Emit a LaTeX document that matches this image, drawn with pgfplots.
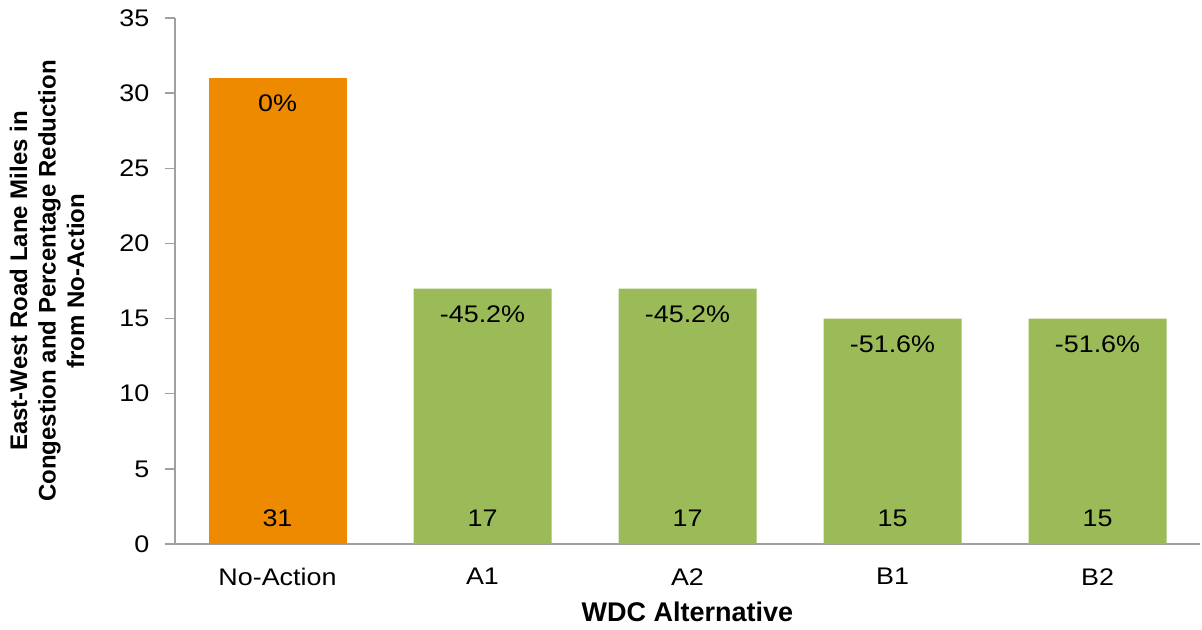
\documentclass[border=0pt]{standalone}
\usepackage{pgfplots}
\pgfplotsset{compat=1.18}
\usepackage{pgfplotstable}
\usepackage{fontspec}
\setmainfont[FakeStretch=1.12]{Liberation Sans}
\newfontfamily\labelfont{Liberation Sans}
\definecolor{barorange}{HTML}{EE8A00}
\definecolor{bargreen}{HTML}{9BBB59}
\definecolor{axgray}{HTML}{A0A0A0}

\pgfplotstableread{
x y pct val
0 31 0\% 31
}\tableNA
\pgfplotstableread{
x y pct val
1 17 -45.2\% 17
2 17 -45.2\% 17
3 15 -51.6\% 15
4 15 -51.6\% 15
}\tableAlt

\begin{document}
\begin{tikzpicture}
\begin{axis}[
  scale only axis, width=512.5pt, height=263pt,
  xmin=-0.5, xmax=4.5, ymin=0, ymax=35,
  xtick={0,1,2,3,4}, xticklabels={No-Action,A1,A2,B1,B2},
  ytick={0,5,...,35},
  axis x line*=bottom, axis y line*=left,
  x axis line style={axgray, -, line width=0.7pt, shorten <=-5pt},
  y axis line style={axgray, -, line width=0.7pt},
  major tick length=5pt,
  tick align=outside,
  xtick style={draw=none},
  ytick style={axgray, line width=0.7pt},
  ticklabel style={font=\fontsize{12}{14}\selectfont},
  xticklabel style={yshift=-3.7pt},
  yticklabel style={xshift=-4.3pt},
  /pgf/number format/assume math mode=true,
  xlabel={WDC Alternative},
  every axis x label/.style={at={(axis description cs:0.5,0)}, anchor=center, yshift=-34pt,
    font=\labelfont\bfseries\fontsize{13.5}{15}\selectfont},
  ylabel={East-West Road Lane Miles in\\Congestion and Percentage Reduction\\from No-Action},
  every axis y label/.style={at={(axis description cs:0,0.5)}, anchor=center, xshift=-64pt, rotate=90,
    align=center, inner sep=0pt, font=\labelfont\bfseries\fontsize{12}{14.25}\selectfont},
  clip=false,
]
\coordinate (O) at (axis description cs:0,0);
\addplot[ybar, bar width=69pt, bar shift=0pt, fill=barorange, draw=none,
  nodes near coords, point meta=explicit symbolic,
  every node near coord/.append style={anchor=north, inner sep=0pt, yshift=-8.2pt, font=\fontsize{12}{14}\selectfont, text=black}]
  table[x=x, y=y, meta=pct]{\tableNA};
\addplot[ybar, bar width=69pt, bar shift=0pt, fill=bargreen, draw=none,
  nodes near coords, point meta=explicit symbolic,
  every node near coord/.append style={anchor=north, inner sep=0pt, yshift=-8.2pt, font=\fontsize{12}{14}\selectfont, text=black}]
  table[x=x, y=y, meta=pct]{\tableAlt};
\addplot[draw=none, mark=none,
  nodes near coords, point meta=explicit symbolic,
  every node near coord/.append style={anchor=south, inner sep=0pt, yshift=8.5pt, font=\fontsize{12}{14}\selectfont, text=black}]
  table[x=x, y expr=0, meta=val]{\tableNA};
\addplot[draw=none, mark=none,
  nodes near coords, point meta=explicit symbolic,
  every node near coord/.append style={anchor=south, inner sep=0pt, yshift=8.5pt, font=\fontsize{12}{14}\selectfont, text=black}]
  table[x=x, y expr=0, meta=val]{\tableAlt};
\end{axis}
\pgfresetboundingbox
\path (O) ++(-87.5pt,-42.5pt) rectangle ++(601pt,314.5pt);
\end{tikzpicture}
\end{document}
